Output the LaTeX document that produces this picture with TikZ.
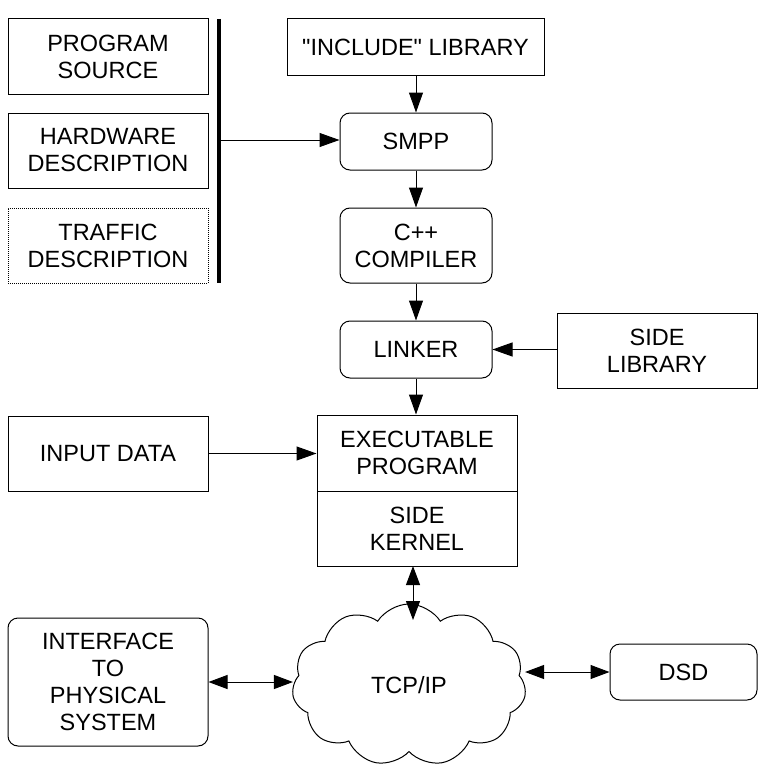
\documentclass[tikz,border=0pt]{standalone}
\usepackage{fontspec}
\setmainfont{Liberation Sans}
\usetikzlibrary{arrows.meta,shapes.symbols}
\newcommand\straightdq{\XeTeXglyph\XeTeXcharglyph"22\relax}
\begin{document}
\begin{tikzpicture}[x=1pt,y=-1pt,
  every node/.style={font=\fontsize{23.5}{27}\selectfont, align=center, inner sep=0pt, line width=1pt},
  box/.style={draw, minimum width=#1},
  rbox/.style={draw, rounded corners=10pt, minimum width=#1},
  conn/.style={line width=1pt, -{Triangle[length=20pt,width=14pt]}},
  dconn/.style={line width=1pt, {Triangle[length=19pt,width=14pt]}-{Triangle[length=19pt,width=14pt]}}
]
\useasboundingbox (0,0) rectangle (768,768);
\node[box=200pt, minimum height=75pt] (ps) at (108,56.5) {PROGRAM\\SOURCE};
\node[box=200pt, minimum height=75pt] (hd) at (108,150.5) {HARDWARE\\DESCRIPTION};
\node[draw, densely dotted, minimum width=200pt, minimum height=75pt] (td) at (108,245.5) {TRAFFIC\\DESCRIPTION};
\coordinate (bartop) at (219,19);
\coordinate (barbot) at (219,283);
\coordinate (barmid) at (219,140);
\draw[line width=4pt] (bartop) -- (barbot);
\node[box=257pt, minimum height=56pt] (inc) at (415.5,47) {\straightdq INCLUDE\straightdq{} LIBRARY};
\node[rbox=152pt, minimum height=57pt] (smpp) at (416,141.5) {SMPP};
\node[rbox=152pt, minimum height=75pt] (cc) at (416,245.5) {C++\\COMPILER};
\node[rbox=152pt, minimum height=57pt] (lnk) at (416,349.5) {LINKER};
\node[box=200pt, minimum height=75pt] (sl) at (657,350.5) {SIDE\\LIBRARY};
\node[box=200pt, minimum height=76pt] (exe) at (417,453) {EXECUTABLE\\PROGRAM};
\node[box=200pt, minimum height=75pt] (kern) at (417,528.5) {SIDE\\KERNEL};
\node[box=200pt, minimum height=75pt] (inp) at (108,453.5) {INPUT DATA};
\node[rbox=200pt, minimum height=128pt] (iface) at (108,682) {INTERFACE\\TO\\PHYSICAL\\SYSTEM};
\node[rbox=147pt, minimum height=56pt] (dsd) at (683.5,672) {DSD};
\node[draw, cloud, cloud puffs=11, cloud puff arc=115, aspect=1.45, minimum width=234pt, minimum height=162pt] (cloud) at (409,685) {TCP/IP};
\coordinate (ctop) at (413,620);
\coordinate (kbot) at (413,566);

\draw[conn] (barmid) -- (barmid -| smpp.west);
\draw[conn] (inc.south -| smpp.north) -- (smpp.north);
\draw[conn] (smpp) -- (cc);
\draw[conn] (cc) -- (lnk);
\draw[conn] (sl.west |- lnk.east) -- (lnk.east);
\draw[conn] (lnk.south) -- (lnk.south |- exe.north);
\draw[conn] (inp.east) -- (inp.east -| exe.west);
\draw[dconn] (kbot) -- (ctop);
\draw[dconn] (iface.east) -- (iface.east -| cloud.west);
\draw[dconn] (cloud.east |- dsd.west) -- (dsd.west);
\end{tikzpicture}
\end{document}
